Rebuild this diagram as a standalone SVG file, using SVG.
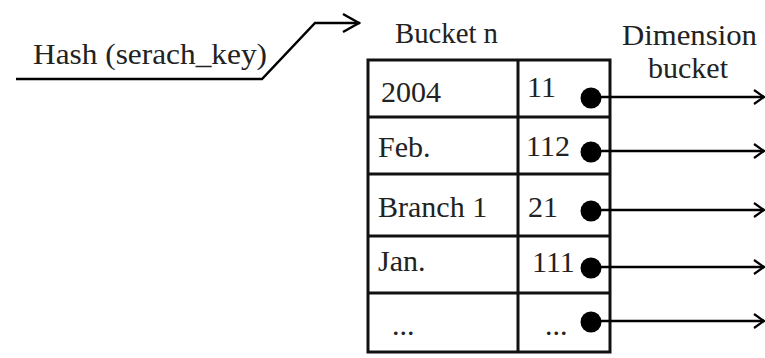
<svg xmlns="http://www.w3.org/2000/svg" width="765" height="358" viewBox="0 0 765 358">
<style>
.t{font-family:'Liberation Serif','Times New Roman',serif;font-size:30px;fill:#222}
.ln{stroke:#000;stroke-width:2.5;fill:none}
.tb{stroke:#111;stroke-width:3;fill:none}
</style>
<defs>
<marker id="ah" viewBox="0 0 12 16" refX="11" refY="8" markerWidth="12" markerHeight="16" markerUnits="userSpaceOnUse" orient="auto">
<path d="M1,1 L11,8 L1,15" fill="none" stroke="#000" stroke-width="2.2"/>
</marker>
<marker id="ah2" viewBox="0 0 20 22" refX="19" refY="11" markerWidth="20" markerHeight="22" markerUnits="userSpaceOnUse" orient="auto">
<path d="M2,2 L18,11 L2,20" fill="none" stroke="#000" stroke-width="2.5"/>
</marker>
</defs>
<rect width="765" height="358" fill="#fff"/>
<g id="hash" class="t">
<text x="33" y="64" textLength="234" lengthAdjust="spacingAndGlyphs">Hash (serach_key)</text>
</g>
<g id="bucket">
<g class="t">
<text x="395" y="43" textLength="103" lengthAdjust="spacingAndGlyphs">Bucket n</text>
<text x="381" y="102">2004</text>
<text x="527" y="97">11</text>
<text x="378" y="157">Feb.</text>
<text x="526" y="156">112</text>
<text x="378" y="217">Branch 1</text>
<text x="528" y="217">21</text>
<text x="378" y="271">Jan.</text>
<text x="532" y="272">111</text>
<text x="392" y="335">...</text>
<text x="545" y="335">...</text>
</g>
<rect class="tb" x="368" y="60" width="242" height="292"/>
<line class="tb" x1="518" y1="60" x2="518" y2="352"/>
<line class="tb" x1="368" y1="117" x2="610" y2="117"/>
<line class="tb" x1="368" y1="174" x2="610" y2="174"/>
<line class="tb" x1="368" y1="236" x2="610" y2="236"/>
<line class="tb" x1="368" y1="293" x2="610" y2="293"/>
<circle cx="591" cy="98" r="10.5" fill="#000"/>
<circle cx="591" cy="152" r="10.5" fill="#000"/>
<circle cx="591" cy="211" r="10.5" fill="#000"/>
<circle cx="591" cy="268" r="10.5" fill="#000"/>
<circle cx="591" cy="322" r="10.5" fill="#000"/>
</g>
<g id="dimension" class="t">
<text x="622" y="45" textLength="135" lengthAdjust="spacingAndGlyphs">Dimension</text>
<text x="648" y="78" textLength="80" lengthAdjust="spacingAndGlyphs">bucket</text>
</g>
<g id="connectors">
<polyline class="ln" points="16,79 262,79 315,23 360,23" marker-end="url(#ah2)"/>
<line class="ln" x1="591" y1="97" x2="764" y2="97" marker-end="url(#ah)"/>
<line class="ln" x1="591" y1="151" x2="764" y2="151" marker-end="url(#ah)"/>
<line class="ln" x1="591" y1="210" x2="764" y2="210" marker-end="url(#ah)"/>
<line class="ln" x1="591" y1="267" x2="764" y2="267" marker-end="url(#ah)"/>
<line class="ln" x1="591" y1="321" x2="764" y2="321" marker-end="url(#ah)"/>
</g>
</svg>
